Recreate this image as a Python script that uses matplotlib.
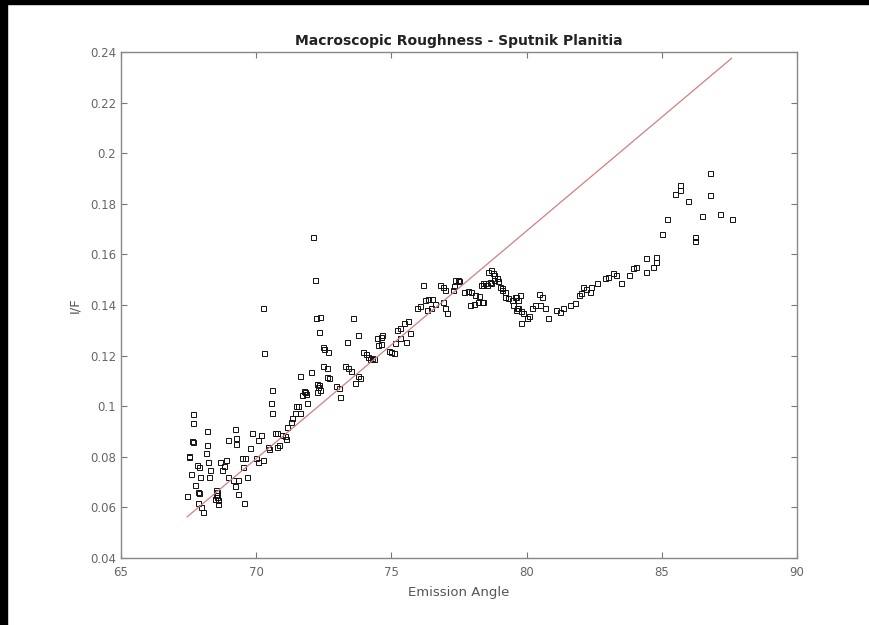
import matplotlib
matplotlib.use("Agg")
import matplotlib.pyplot as plt
from matplotlib.patches import Rectangle

# emission angle (deg) and I/F
angle = [
    67.65, 67.65, 67.63, 67.66, 67.50, 67.53, 67.80, 67.90, 67.58, 67.92,
    67.74, 67.85, 67.88, 67.45, 67.85, 67.95, 68.02, 68.17, 68.18, 68.14,
    68.22, 68.29, 68.26, 68.50, 68.52, 68.55, 68.58, 68.48, 68.60, 68.56,
    68.66, 68.72, 68.88, 68.80, 68.96, 68.96, 69.22, 69.25, 69.27, 69.13,
    69.22, 69.33, 69.33, 69.55, 69.47, 69.60, 69.52, 69.65, 69.77, 69.83,
    69.99, 70.05, 70.07, 70.17, 70.25, 70.43, 70.48, 70.57, 70.53, 70.57,
    70.70, 70.78, 70.94, 71.05, 70.77, 70.85, 71.10, 71.13, 71.29, 71.33,
    71.43, 71.46, 71.55, 71.62, 71.71, 71.75, 71.87, 72.25, 72.30, 70.25,
    70.27,
    72.11, 72.17, 72.20, 72.35, 72.32, 73.59, 73.35, 73.77, 72.47, 72.50,
    72.66, 71.62, 72.01, 72.47, 72.60, 72.60, 72.70, 72.32, 72.35, 71.80,
    71.85, 72.24, 72.95, 73.05, 73.10, 73.30, 73.40, 73.50, 73.77, 73.85,
    73.65, 73.95, 74.05, 74.15, 74.20, 74.28, 74.35, 74.45, 74.60, 74.65,
    74.50, 74.60, 74.90, 75.00, 75.10, 75.20, 75.30, 75.45, 75.60, 75.15,
    75.30, 75.55, 75.70, 75.95, 76.05, 76.24, 76.35, 76.50, 76.60, 76.30,
    76.45, 76.17, 76.80, 76.92, 77.00, 77.00, 77.05, 77.35, 77.45, 77.50,
    77.28, 77.32, 76.90, 77.70, 77.85, 77.95, 78.10, 78.25, 77.90, 78.05,
    78.20, 78.40, 78.30, 78.40, 78.55, 78.70, 78.80, 78.95, 78.57, 78.80,
    79.10, 79.20, 79.60, 79.70, 79.75, 79.65, 79.80, 79.85, 80.00, 80.10,
    86.78, 85.67, 85.67, 85.49, 85.97, 86.78, 87.15, 87.58, 86.47, 86.23,
    86.23, 85.19, 85.00, 84.79, 84.79, 84.66, 84.42, 84.42, 84.05, 83.95,
    83.80, 83.50, 83.20, 83.30, 83.00, 82.90, 82.60, 82.40, 82.35, 82.20,
    82.10, 82.00, 81.95, 81.80, 81.60, 81.35, 81.23, 81.10, 80.80, 80.68,
    80.50, 80.46, 80.56, 80.30, 80.20, 80.00, 79.80, 79.70, 79.60, 79.50,
    79.45, 79.57, 79.30, 79.20, 79.08, 79.00, 78.90, 78.76, 78.70, 78.65,
    78.46, 78.34, 78.40,
]
i_over_f = [
    0.0969, 0.0932, 0.0862, 0.0858, 0.0803, 0.0798, 0.0768, 0.0760, 0.0732, 0.0721,
    0.0689, 0.0660, 0.0657, 0.0646, 0.0619, 0.0603, 0.0583, 0.0903, 0.0847, 0.0815,
    0.0781, 0.0748, 0.0721, 0.0667, 0.0650, 0.0640, 0.0628, 0.0632, 0.0612, 0.0660,
    0.0780, 0.0748, 0.0787, 0.0764, 0.0720, 0.0866, 0.0910, 0.0850, 0.0876, 0.0710,
    0.0685, 0.0710, 0.0653, 0.0617, 0.0795, 0.0795, 0.0760, 0.0720, 0.0835, 0.0894,
    0.0795, 0.0780, 0.0866, 0.0886, 0.0787, 0.0839, 0.0832, 0.1064, 0.1012, 0.0973,
    0.0894, 0.0894, 0.0886, 0.0882, 0.0839, 0.0845, 0.0869, 0.0919, 0.0938, 0.0955,
    0.0973, 0.1000, 0.1002, 0.0973, 0.1044, 0.1060, 0.1012, 0.1088, 0.1075, 0.1390,
    0.1210,
    0.1668, 0.1499, 0.1349, 0.1352, 0.1294, 0.1349, 0.1255, 0.1280, 0.1234, 0.1228,
    0.1215, 0.1120, 0.1136, 0.1160, 0.1150, 0.1117, 0.1110, 0.1085, 0.1065, 0.1056,
    0.1050, 0.1056, 0.1080, 0.1070, 0.1038, 0.1160, 0.1150, 0.1140, 0.1120, 0.1110,
    0.1090, 0.1214, 0.1205, 0.1195, 0.1187, 0.1192, 0.1187, 0.1270, 0.1275, 0.1280,
    0.1240, 0.1245, 0.1220, 0.1215, 0.1210, 0.1300, 0.1310, 0.1330, 0.1335, 0.1250,
    0.1270, 0.1255, 0.1290, 0.1390, 0.1395, 0.1420, 0.1425, 0.1425, 0.1405, 0.1380,
    0.1390, 0.1480, 0.1480, 0.1470, 0.1460, 0.1390, 0.1370, 0.1500, 0.1500, 0.1495,
    0.1460, 0.1475, 0.1410, 0.1450, 0.1455, 0.1450, 0.1440, 0.1435, 0.1400, 0.1405,
    0.1410, 0.1410, 0.1480, 0.1485, 0.1480, 0.1485, 0.1500, 0.1495, 0.1530, 0.1520,
    0.1460, 0.1450, 0.1430, 0.1420, 0.1440, 0.1390, 0.1375, 0.1370, 0.1350, 0.1355,
    0.1923, 0.1855, 0.1875, 0.1840, 0.1810, 0.1835, 0.1760, 0.1739, 0.1752, 0.1670,
    0.1654, 0.1739, 0.1680, 0.1570, 0.1590, 0.1550, 0.1585, 0.1530, 0.1550, 0.1545,
    0.1520, 0.1486, 0.1525, 0.1520, 0.1510, 0.1505, 0.1487, 0.1470, 0.1450, 0.1465,
    0.1470, 0.1446, 0.1440, 0.1408, 0.1400, 0.1387, 0.1374, 0.1380, 0.1350, 0.1390,
    0.1400, 0.1443, 0.1430, 0.1400, 0.1390, 0.1348, 0.1330, 0.1390, 0.1380, 0.1400,
    0.1420, 0.1430, 0.1428, 0.1430, 0.1467, 0.1470, 0.1506, 0.1525, 0.1538, 0.1490,
    0.1486, 0.1413, 0.1480,
]

# straight reference line (model) drawn over the points
fit_angle = [67.45, 87.58]
fit_if = [0.0563, 0.2375]

x_ticks = [65, 70, 75, 80, 85, 90]
y_ticks = [0.04, 0.06, 0.08, 0.10, 0.12, 0.14, 0.16, 0.18, 0.20, 0.22, 0.24]
y_tick_labels = ['0.04', '0.06', '0.08', '0.1', '0.12', '0.14', '0.16',
                 '0.18', '0.2', '0.22', '0.24']

fig = plt.figure(figsize=(8.69, 6.25), dpi=100)
ax = fig.add_axes([121 / 869, 1 - 558 / 625, 676 / 869, 506 / 625])

ax.plot(angle, i_over_f, linestyle='none', marker='s', markersize=3.6,
        markerfacecolor='none', markeredgecolor='#111111', markeredgewidth=0.7)
ax.plot(fit_angle, fit_if, color='#d08080', linewidth=0.9)

ax.set_xlim(65, 90)
ax.set_ylim(0.04, 0.24)
ax.set_xticks(x_ticks)
ax.set_yticks(y_ticks)
ax.set_yticklabels(y_tick_labels)
ax.tick_params(direction='in', length=4, width=0.8, colors='#777777',
               labelcolor='#666666', labelsize=8.5, top=True, right=True)
ax.tick_params(axis='x', pad=6)
for s in ax.spines.values():
    s.set_color('#888888')
    s.set_linewidth(1.0)

ax.set_xlabel('Emission Angle', fontsize=9.5, color='#555555', labelpad=5)
ax.set_ylabel('I/F', fontsize=9.5, color='#555555', labelpad=6)
ax.set_title('Macroscopic Roughness - Sputnik Planitia', fontsize=10,
             fontweight='bold', color='#222222', pad=5)

# black frame strips along the top and left edges of the picture
fig.patches.append(Rectangle((0, 1 - 4 / 625), 1, 4 / 625, transform=fig.transFigure,
                             color='black', zorder=10))
fig.patches.append(Rectangle((0, 0), 7 / 869, 1, transform=fig.transFigure,
                             color='black', zorder=10))

fig.savefig('out.png', dpi=100)
